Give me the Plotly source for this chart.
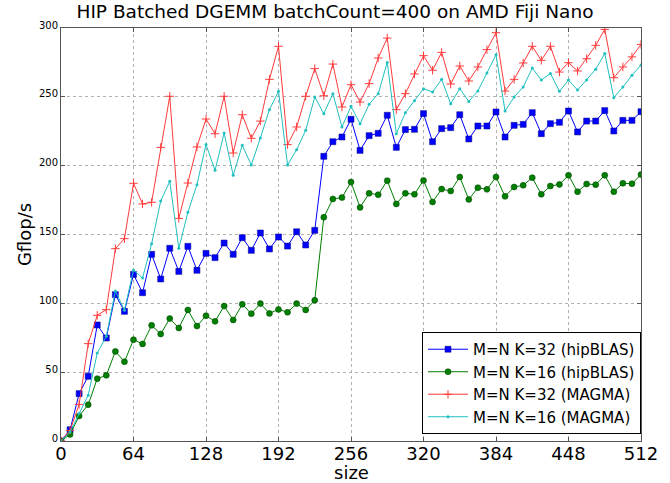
import plotly.graph_objects as go

sizes = [0, 8, 16, 24, 32, 40, 48, 56, 64, 72, 80, 88, 96, 104, 112, 120, 128,
         136, 144, 152, 160, 168, 176, 184, 192, 200, 208, 216, 224, 232, 240, 248, 256,
         264, 272, 280, 288, 296, 304, 312, 320, 328, 336, 344, 352, 360, 368, 376, 384,
         392, 400, 408, 416, 424, 432, 440, 448, 456, 464, 472, 480, 488, 496, 504, 512]

hipblas_k32 = [0, 8.2, 34.4, 47, 84.3, 74.8, 106.3, 94.2, 121, 107.7, 135.6, 117.7, 140, 123.2, 141.4, 124, 136.3,
               133.2, 143.8, 135.6, 147.7, 138.5, 151.1, 139.5, 148.2, 141.6, 152, 142.4, 153, 206.8, 217.4, 220.8, 233.7,
               211.1, 221.8, 223.5, 236.6, 213.3, 226.2, 226.4, 237.8, 217.4, 226.9, 227.6, 237, 219.4, 228.8, 228.8, 239,
               220.8, 229.3, 230, 238.5, 223.2, 230.5, 231.5, 239.7, 224.5, 232.4, 232.4, 240, 225.2, 232.9, 232.9, 239.2]

hipblas_k16 = [0, 4.8, 18.2, 26.4, 45.3, 47.7, 65.1, 57.6, 73.6, 70.5, 84, 77.7, 88.9, 82.1, 95.2, 83.5, 91,
               86.9, 98, 87.9, 99.3, 92.5, 99.8, 92.7, 95.6, 93.5, 99.8, 95.2, 102.2, 162.5, 175.8, 176.8, 188.1,
               169.7, 179.9, 178.9, 189.1, 172.2, 179.9, 179.2, 189.3, 173.6, 183, 181.6, 191.8, 175.5, 184, 182.8, 191.8,
               177.7, 184.5, 185.7, 191.3, 179.2, 185.2, 186.4, 193, 181.1, 186.7, 186.2, 193, 181.1, 187.2, 186.9, 193.5]

magma_k32 = [0, 7.7, 26.6, 70.7, 91.3, 95.4, 139.7, 147, 187.2, 172.2, 173.4, 213.3, 250.4, 161.7, 187.4, 213.6, 233.9,
             223.2, 250.4, 209.2, 237, 219.9, 232.4, 262.7, 286.7, 215.3, 228.1, 250.4, 270.5, 250.8, 273.8, 242.6, 258.8,
             246.2, 259.6, 278.2, 292.7, 240.7, 252.3, 266.6, 279.9, 269.3, 282.3, 259.3, 272.4, 261.5, 271.7, 284.3, 296.6,
             254.2, 262.7, 274.6, 286.7, 276.5, 286.7, 268, 274.8, 268.8, 277.7, 287.4, 299, 263.9, 271.7, 279, 288.1]

magma_k16 = [0, 6.5, 19.9, 33.2, 63.9, 76, 109, 94.9, 124.2, 118.4, 143.3, 174.3, 188.6, 140, 166.1, 186.2, 215.3,
             196.6, 223.7, 193, 214.8, 200.5, 220.1, 240.7, 254, 200.5, 211.6, 225.7, 249.9, 237.8, 252.3, 228.1, 243.1,
             230.5, 244.6, 252.3, 275, 223.2, 238.5, 247.2, 255.9, 253.5, 262.7, 245, 255.9, 246.7, 254.2, 267.3, 280.6,
             239.7, 249.9, 257.1, 270.9, 262.2, 267, 254, 262.2, 254.9, 262.2, 270, 281.4, 249.4, 257.1, 265.6, 273.1]

x_ticks = [0, 64, 128, 192, 256, 320, 384, 448, 512]
y_ticks = [0, 50, 100, 150, 200, 250, 300]

fig = go.Figure()
fig.add_trace(go.Scatter(x=sizes, y=hipblas_k32, mode="lines+markers", name="M=N K=32 (hipBLAS)",
                         legendgroup="a",
                         line=dict(color="#0000ff", width=1),
                         marker=dict(symbol="square", size=6, color="#0000ff", line=dict(width=0.5, color="#000080"))))
fig.add_trace(go.Scatter(x=sizes, y=hipblas_k16, mode="lines+markers", name="M=N K=16 (hipBLAS)",
                         legendgroup="b",
                         line=dict(color="#007f00", width=1),
                         marker=dict(symbol="circle", size=6, color="#007f00", line=dict(width=0.5, color="#004000"))))
fig.add_trace(go.Scatter(x=sizes, y=magma_k32, mode="lines+markers", name="M=N K=32 (MAGMA)",
                         legendgroup="c",
                         line=dict(color="#ff3a3a", width=1),
                         marker=dict(symbol="cross-thin", size=6, color="#ff3a3a", line=dict(width=1, color="#ff3a3a"))))
fig.add_trace(go.Scatter(x=sizes, y=magma_k16, mode="lines+markers", name="M=N K=16 (MAGMA)",
                         legendgroup="d",
                         line=dict(color="#20c0c0", width=1),
                         marker=dict(symbol="circle", size=3, color="#20c0c0")))

fig.update_layout(
    width=670, height=483,
    margin=dict(l=61, r=29, t=28, b=42),
    paper_bgcolor="white", plot_bgcolor="white",
    font=dict(family="DejaVu Sans", color="black"),
    title=dict(text="HIP Batched DGEMM batchCount=400 on AMD Fiji Nano", x=0.5, xanchor="center",
               y=0.99, yanchor="top", font=dict(size=18.5)),
    showlegend=True,
    legend=dict(x=1.0, y=0.017, xanchor="right", yanchor="bottom",
                bgcolor="white", bordercolor="black", borderwidth=1,
                font=dict(size=15), tracegroupgap=0, itemwidth=40),
    annotations=[dict(text="size", xref="paper", yref="paper", x=0.5, y=-0.077,
                      xanchor="center", yanchor="middle", showarrow=False, font=dict(size=18))],
)
fig.update_xaxes(range=[0, 512], tickvals=x_ticks, ticktext=[str(t) for t in x_ticks],
                 tickfont=dict(size=18), ticklabelstandoff=-4,
                 automargin=False,
                 showline=True, linecolor="#555", linewidth=1, mirror="ticks",
                 ticks="inside", ticklen=4, tickcolor="#555",
                 showgrid=True, gridcolor="#b0b0b0", griddash="dot", gridwidth=1, zeroline=False)
fig.update_yaxes(range=[0, 300], tickvals=y_ticks, ticktext=[str(t) for t in y_ticks],
                 tickfont=dict(size=10), ticklabelshift=-3,
                 title=dict(text="Gflop/s", font=dict(size=18), standoff=2),
                 automargin=False,
                 showline=True, linecolor="#555", linewidth=1, mirror="ticks",
                 ticks="inside", ticklen=4, tickcolor="#555",
                 showgrid=True, gridcolor="#b0b0b0", griddash="dot", gridwidth=1, zeroline=False)

fig.write_html("out.html")
